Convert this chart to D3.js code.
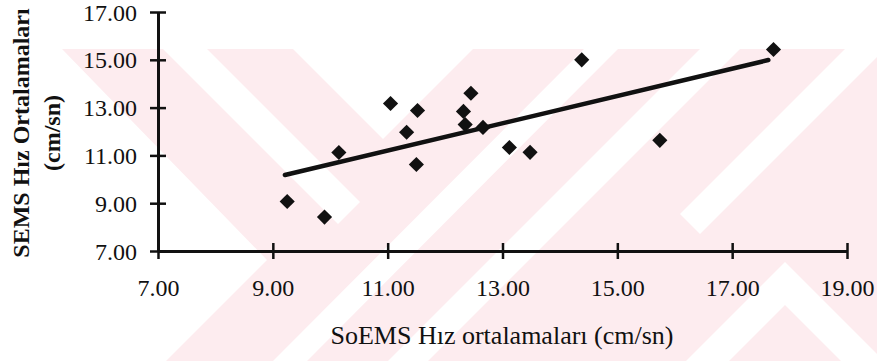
<!DOCTYPE html>
<html>
<head>
<meta charset="utf-8">
<script src="https://cdnjs.cloudflare.com/ajax/libs/d3/7.8.5/d3.min.js"></script>
<style>
body { margin: 0; background: #fff; }
text { font-family: "Liberation Serif", "Times New Roman", serif; fill: #111; }
</style>
</head>
<body>
<div id="chart"></div>
<script>
// SoEMS (x) vs SEMS (y) hiz ortalamalari, cm/sn
var soems = [9.25, 9.9, 10.15, 11.05, 11.33, 11.52, 11.5, 12.32, 12.35, 12.45, 12.66, 13.12, 13.48, 14.38, 15.74, 17.72];
var sems  = [9.07, 8.42, 11.12, 13.17, 11.97, 12.88, 10.62, 12.84, 12.29, 13.6, 12.17, 11.33, 11.13, 15.0, 11.63, 15.43];

// trend line end points
var trendX = [9.21, 17.63];
var trendY = [10.18, 14.99];

var xTicks = [7, 9, 11, 13, 15, 17, 19];
var yTicks = [7, 9, 11, 13, 15, 17];

var xTitle = "SoEMS Hız ortalamaları (cm/sn)";
var yTitle = ["SEMS Hız Ortalamaları", "(cm/sn)"];

var w = 877;
var h = 361;

var svg = d3.select("#chart")
  .append("svg")
  .attr("width", w)
  .attr("height", h);

// faint background watermark of the scan
var pink = "#fdecef";
var wm = svg.append("g");
wm.append("rect")
  .attr("x", 62).attr("y", 49)
  .attr("width", w - 62).attr("height", h - 49)
  .attr("fill", pink);
var holes = [
  [[62,49],[62,361],[166,361],[267,260]],
  [[163,49],[207,49],[360,202],[338,224]],
  [[293,49],[473,49],[383,139]],
  [[700,49],[740,49],[428,361],[388,361]],
  [[584,49],[618,49],[307,361],[273,361]],
  [[845,49],[885,49],[700,234],[680,214]],
  [[785,262],[884,361],[841,361],[785,305],[729,361],[686,361]]
];
wm.selectAll("polygon")
  .data(holes)
  .enter()
  .append("polygon")
  .attr("points", function(d) { return d.join(" "); })
  .attr("fill", "#fff");

var x = d3.scaleLinear().domain([7, 19]).range([158, 847]);
var y = d3.scaleLinear().domain([7, 17]).range([251, 12]);

var fmt = d3.format(".2f");

// axes
var xAxis = d3.axisBottom(x).tickValues(xTicks).tickFormat(fmt).tickSize(0).tickPadding(28);
var yAxis = d3.axisLeft(y).tickValues(yTicks).tickFormat(fmt).tickSize(0).tickPadding(21);

var gx = svg.append("g").attr("transform", "translate(0," + y(7) + ")").call(xAxis);
var gy = svg.append("g").attr("transform", "translate(" + x(7) + ",0)").call(yAxis);

[gx, gy].forEach(function(g) {
  g.select(".domain").attr("stroke", "#111").attr("stroke-width", 3);
  g.selectAll("text").attr("font-size", 24).attr("fill", "#111")
    .style("font-family", "Liberation Serif");
});
gy.selectAll(".tick text").attr("dy", "0.34em");

// cross ticks
gx.selectAll(".tick").append("line")
  .attr("y1", -8).attr("y2", 8)
  .attr("stroke", "#111").attr("stroke-width", 2.5);
gy.selectAll(".tick").append("line")
  .attr("x1", -8).attr("x2", 8)
  .attr("stroke", "#111").attr("stroke-width", 2.5);

// trend line
var line = d3.line()
  .x(function(d) { return x(d[0]); })
  .y(function(d) { return y(d[1]); });
svg.append("path")
  .datum(d3.zip(trendX, trendY))
  .attr("d", line)
  .attr("fill", "none")
  .attr("stroke", "#111")
  .attr("stroke-width", 4.5)
  .attr("stroke-linecap", "round");

// diamond markers
var sq = d3.symbol().type(d3.symbolSquare).size(115);
svg.selectAll("path.pt")
  .data(d3.zip(soems, sems))
  .enter()
  .append("path")
  .attr("class", "pt")
  .attr("d", sq)
  .attr("fill", "#111")
  .attr("transform", function(d) {
    return "translate(" + x(d[0]) + "," + y(d[1]) + ") rotate(45)";
  });

// titles
svg.append("text")
  .attr("x", 502).attr("y", 344)
  .attr("text-anchor", "middle")
  .attr("font-size", 26)
  .text(xTitle);

svg.selectAll("text.ytitle")
  .data(yTitle)
  .enter()
  .append("text")
  .attr("class", "ytitle")
  .attr("text-anchor", "middle")
  .attr("font-size", 24)
  .attr("font-weight", "bold")
  .attr("transform", function(d, i) {
    return "translate(" + (29 + i * 31) + ",133) rotate(-90)";
  })
  .text(function(d) { return d; });
</script>
</body>
</html>
